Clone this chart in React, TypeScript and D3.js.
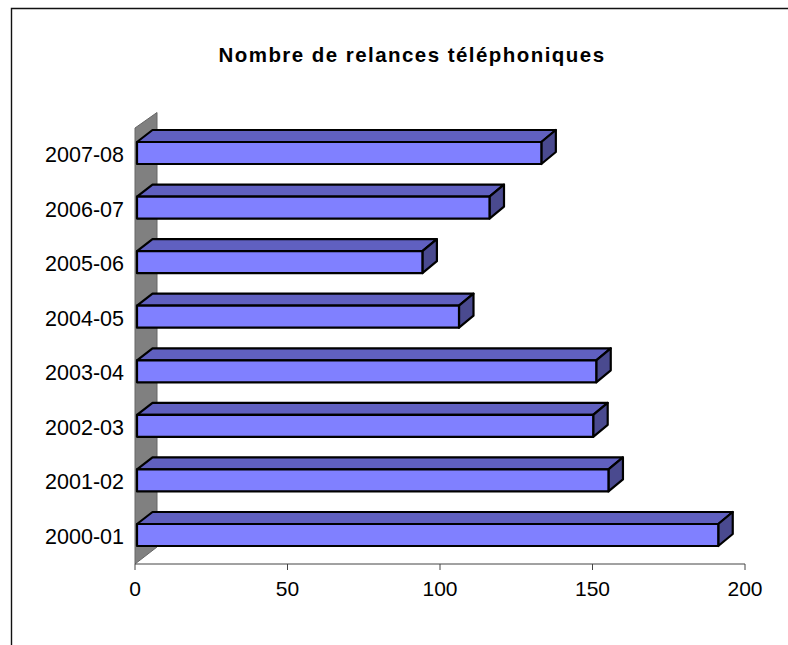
import React from "react";
import * as d3 from "d3";

const categories = ["2000-01", "2001-02", "2002-03", "2003-04", "2004-05", "2005-06", "2006-07", "2007-08"];
const values = [191, 155, 150, 151, 106, 94, 116, 133];
const ticks = [0, 50, 100, 150, 200];
const title = "Nombre de relances téléphoniques";

const W = 788, H = 645;
const x = d3.scaleLinear().domain([0, 200]).range([135, 745]);
const line = d3.line();
const font = "'Liberation Sans', Arial, sans-serif";
const DX = 14.5, DY = -12, OFF = 0.7;

export default function App() {
  const h = 22;
  return (
    <svg width={W} height={H} style={{ position: "absolute", left: 0, top: 0 }} fontFamily={font}>
      <rect width={W} height={H} fill="#fff" />
      <path d={line([[11.5, H], [11.5, 8.5], [W, 8.5]])!} fill="none" stroke="#111" strokeWidth={1.4} />
      <text x={412} y={62} textAnchor="middle" fontSize={20.5} fontWeight="bold" letterSpacing={1.45}>{title}</text>
      <path d={line([[x(0), 128], [x(0) + 22, 112.5], [x(0) + 22, 547], [x(0), 564]])! + "Z"} fill="#808080" stroke="#666" strokeWidth={1} />
      <path d={line([[x(0), 564], [x(200), 564]])!} stroke="#444" strokeWidth={1} />
      {ticks.map((t) => (
        <g key={t}>
          <path d={line([[x(t), 564], [x(t), 570]])!} stroke="#444" strokeWidth={1} />
          <text x={x(t)} y={596} textAnchor="middle" fontSize={21}>{t}</text>
        </g>
      ))}
      {categories.map((c, i) => {
        const top = 524 - i * (382 / 7);
        const x0 = x(0) + 2;
        const x1 = x(values[i]) + OFF;
        return (
          <g key={c} stroke="#000" strokeWidth={2.2} strokeLinejoin="round">
            <path d={line([[x0, top], [x0 + DX + 1, top + DY], [x1 + DX, top + DY], [x1, top]])! + "Z"} fill="#6060c0" />
            <path d={line([[x1, top], [x1 + DX, top + DY], [x1 + DX, top + h + DY], [x1, top + h]])! + "Z"} fill="#4a4a8f" />
            <rect x={x0} y={top} width={x1 - x0} height={h} fill="#8080ff" />
            <text x={124} y={top + 20} textAnchor="end" fontSize={21.5} stroke="none" fill="#000">{c}</text>
          </g>
        );
      })}
    </svg>
  );
}
